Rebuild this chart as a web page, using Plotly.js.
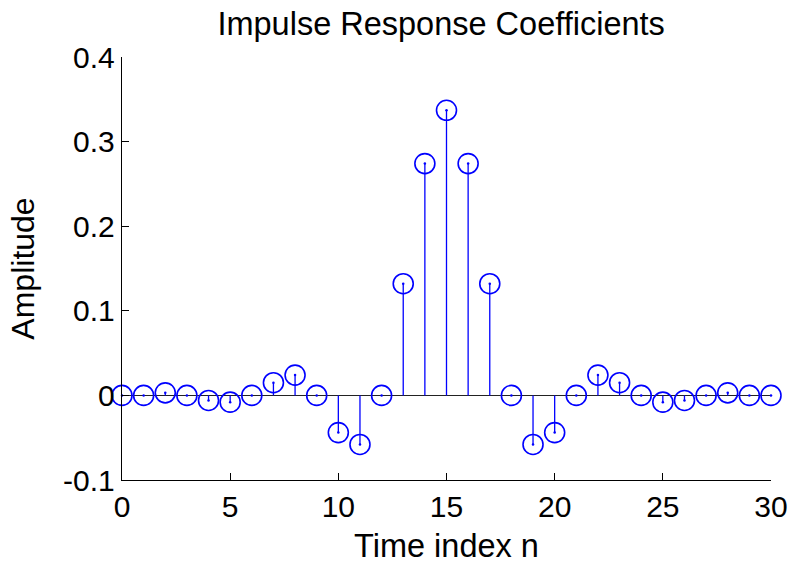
<!DOCTYPE html>
<html>
<head>
<meta charset="utf-8">
<script src="https://cdn.plot.ly/plotly-3.0.1.min.js"></script>
<style>html,body{margin:0;padding:0;background:#fff;}#chart{width:792px;height:567px;}</style>
</head>
<body>
<div id="chart"></div>
<script>
const n = [0,1,2,3,4,5,6,7,8,9,10,11,12,13,14,15,16,17,18,19,20,21,22,23,24,25,26,27,28,29,30];
const h = [0, 0, 0.003, 0, -0.006, -0.008, 0, 0.015, 0.024, 0, -0.044, -0.058, 0, 0.132, 0.274, 0.337, 0.274, 0.132, 0, -0.058, -0.044, 0, 0.024, 0.015, 0, -0.008, -0.006, 0, 0.003, 0, 0];
const xTicks = [0,5,10,15,20,25,30];
const yTicks = [-0.1,0,0.1,0.2,0.3,0.4];
const yTickText = ['-0.1','0','0.1','0.2','0.3','0.4'];

const stemX = [], stemY = [];
n.forEach((v,i)=>{ stemX.push(v, v, null); stemY.push(0, h[i], null); });

const blue = '#0000ff';
const font = 'Liberation Sans, Arial, Helvetica, sans-serif';

const traces = [
  {x: stemX, y: stemY, mode: 'lines', line: {color: blue, width: 1.3}, hoverinfo: 'skip', cliponaxis: false},
  {x: n, y: h, mode: 'markers', marker: {symbol: 'circle', size: 2.5, color: blue}, cliponaxis: false},
  {x: n, y: h, mode: 'markers', marker: {symbol: 'circle-open', size: 20, color: blue, line: {width: 1.6, color: blue}}, cliponaxis: false}
];

const layout = {
  width: 792, height: 567,
  margin: {l: 122, r: 21, t: 57, b: 87},
  paper_bgcolor: '#fff', plot_bgcolor: '#fff',
  showlegend: false,
  font: {family: font, color: '#000'},
  title: {text: 'Impulse Response Coefficients', font: {family: font, size: 32.5, color: '#000'}, x: 0.557, xanchor: 'center', y: 0.958, yanchor: 'middle'},
  xaxis: {
    range: [0, 30], tickvals: xTicks, ticktext: xTicks.map(String),
    ticks: 'inside', ticklen: 7, tickcolor: '#000', tickwidth: 1,
    showline: true, linecolor: '#000', linewidth: 1.2, mirror: false,
    showgrid: false, zeroline: false, automargin: false,
    tickfont: {family: font, size: 30, color: '#000'},
    title: {text: 'Time index n', font: {family: font, size: 32.5, color: '#000'}, standoff: 12}
  },
  yaxis: {
    range: [-0.1, 0.4], tickvals: yTicks, ticktext: yTickText,
    ticks: 'inside', ticklen: 7, tickcolor: '#000', tickwidth: 1,
    showline: true, linecolor: '#000', linewidth: 1.2, mirror: false,
    showgrid: false, zeroline: true, zerolinecolor: '#222', zerolinewidth: 1.3, automargin: false,
    tickfont: {family: font, size: 30, color: '#000'},
    title: {text: 'Amplitude', font: {family: font, size: 32, color: '#000'}, standoff: 18}
  }
};

Plotly.newPlot('chart', traces, layout, {displayModeBar: false, staticPlot: true});
</script>
</body>
</html>
